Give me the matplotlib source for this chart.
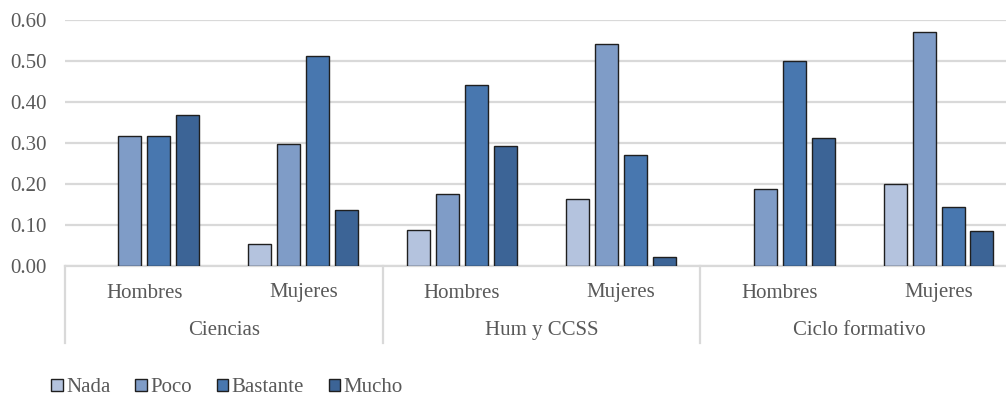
import numpy as np
import matplotlib
matplotlib.use("Agg")
import matplotlib.pyplot as plt

plt.rcParams['font.family'] = ['Liberation Serif', 'DejaVu Serif']

areas = ["Ciencias", "Hum y CCSS", "Ciclo formativo"]
sexes = ["Hombres", "Mujeres"]
series = ["Nada", "Poco", "Bastante", "Mucho"]
colors = ["#b4c3de", "#7f9cc7", "#4877af", "#3c6496"]

# one value per group: Ciencias H, Ciencias M, Hum H, Hum M, Ciclo H, Ciclo M
nada = [0.0, 0.054, 0.089, 0.163, 0.0, 0.200]
poco = [0.316, 0.297, 0.176, 0.542, 0.188, 0.571]
bastante = [0.316, 0.513, 0.441, 0.270, 0.500, 0.143]
mucho = [0.368, 0.136, 0.293, 0.023, 0.313, 0.086]
values = [nada, poco, bastante, mucho]

txt = "#595959"
grid = "#d9d9d9"
fs = 15

W, H = 1006, 399
fig = plt.figure(figsize=(W / 100, H / 100), dpi=100)
x0, x1, y0, y1 = 65, 1018, 266, 20
ax = fig.add_axes([x0 / W, 1 - y0 / H, (x1 - x0) / W, (y0 - y1) / H])

x = np.arange(6)
pitch, width = 0.182, 0.145
handles = []
for k, (name, vals, c) in enumerate(zip(series, values, colors)):
    v = np.array(vals)
    m = v > 0
    b = ax.bar(x[m] + (k - 1.5) * pitch, v[m], width, color=c,
               edgecolor="#1f1f1f", linewidth=1.0, zorder=3, label=name)
    handles.append(b)

ax.set_xlim(-0.5, 5.5)
ax.set_ylim(0, 0.6)
ax.set_yticks(np.arange(0, 0.61, 0.1))
ax.set_yticklabels([f"{t:.2f}" for t in np.arange(0, 0.61, 0.1)])
ax.yaxis.grid(True, color=grid, linewidth=1.6, zorder=0)
ax.set_axisbelow(True)
ax.tick_params(axis="y", length=0, pad=13, labelsize=fs, labelcolor=txt)
ax.set_xticks([])
for s in ["top", "right", "left"]:
    ax.spines[s].set_visible(False)
ax.spines["bottom"].set_color(grid)
ax.spines["bottom"].set_linewidth(1.6)

# two-level category axis
tr = ax.get_xaxis_transform()
h = y0 - y1
for i in range(6):
    ax.text(x[i], -27 / h, sexes[i % 2], transform=tr, ha="center", va="center",
            fontsize=fs, color=txt)
for j, a in enumerate(areas):
    ax.text(2 * j + 0.5, -65 / h, a, transform=tr, ha="center", va="center",
            fontsize=fs, color=txt)
for bx in [-0.5, 1.5, 3.5]:
    ax.plot([bx, bx], [0, -77 / h], transform=tr, color=grid, linewidth=1.6,
            clip_on=False)

fig.legend(handles=handles, loc="center left", bbox_to_anchor=(41 / W, 1 - 388 / H),
           ncol=4, frameon=False, fontsize=fs, handlelength=0.55, handleheight=0.55,
           handletextpad=0.15, columnspacing=1.2, labelcolor=txt, borderpad=0)

fig.savefig("out.png", dpi=100)
